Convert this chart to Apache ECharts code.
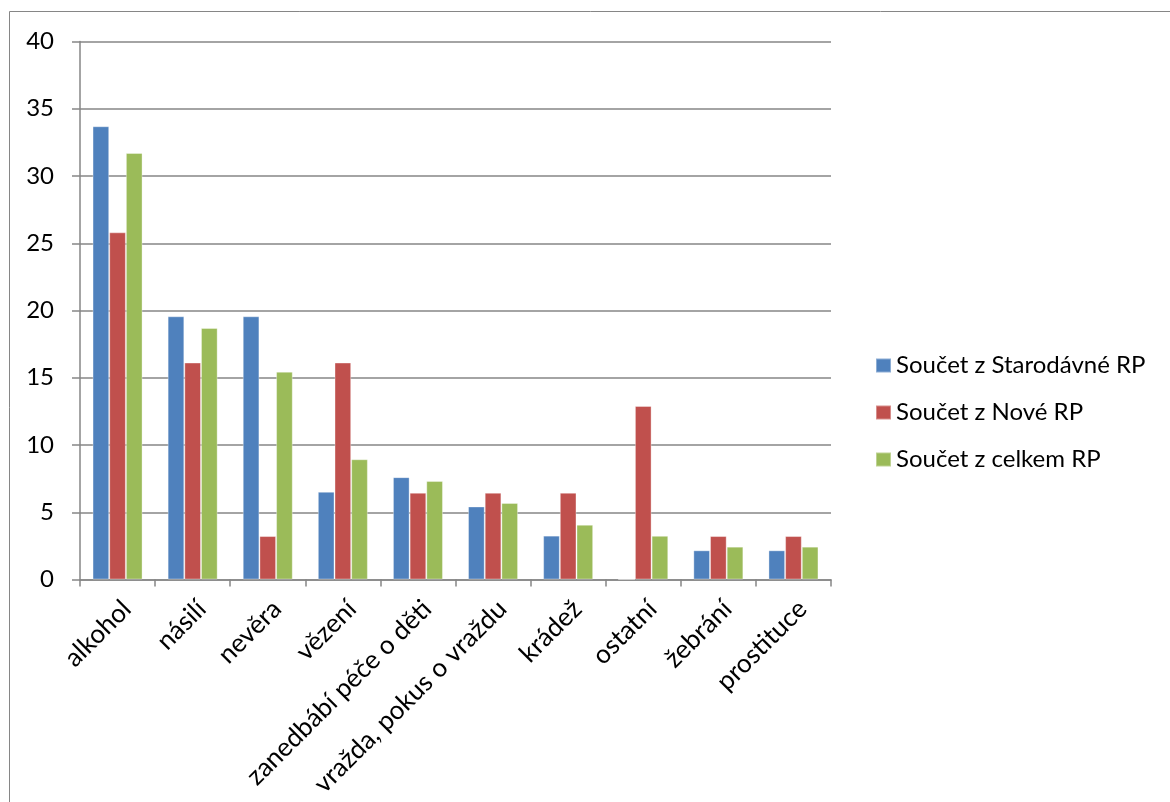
<!DOCTYPE html>
<html>
<head>
<meta charset="utf-8">
<script src="https://cdn.jsdelivr.net/npm/echarts@6/dist/echarts.min.js"></script>
<style>
  html, body { margin: 0; padding: 0; background: #fff; }
  #chart { width: 1170px; height: 802px; }
</style>
</head>
<body>
<div id="chart"></div>
<script>
// Causes (categories) and percentage shares per group
const categories = ['alkohol', 'násilí', 'nevěra', 'vězení', 'zanedbábí péče o děti',
  'vražda, pokus o vraždu', 'krádež', 'ostatní', 'žebrání', 'prostituce'];
const seriesNames = ['Součet z Starodávné RP', 'Součet z Nové RP', 'Součet z celkem RP'];
const starodavne = [33.70, 19.57, 19.57, 6.52, 7.61, 5.43, 3.26, 0, 2.17, 2.17];
const nove = [25.81, 16.13, 3.23, 16.13, 6.45, 6.45, 6.45, 12.90, 3.23, 3.23];
const celkem = [31.71, 18.70, 15.45, 8.94, 7.32, 5.69, 4.07, 3.25, 2.44, 2.44];
const yTicks = { min: 0, max: 40, interval: 5 };

const colors = ['#4F81BD', '#C0504D', '#9BBB59'];
const font = 'Lato, "Open Sans", sans-serif';
const axisGray = '#868686';

const chart = echarts.init(document.getElementById('chart'), null, { renderer: 'canvas' });

const seriesData = [starodavne, nove, celkem];

chart.setOption({
  animation: false,
  color: colors,
  textStyle: { fontFamily: font, color: '#000' },
  graphic: [{
    type: 'rect',
    shape: { x: 9.5, y: 11.5, width: 1200, height: 900 },
    style: { fill: 'none', stroke: axisGray, lineWidth: 1 },
    silent: true
  }],
  grid: { left: 80, right: 339, top: 41.5, bottom: 222.5, containLabel: false },
  legend: {
    orient: 'vertical',
    left: 870,
    top: 348,
    itemWidth: 15,
    itemHeight: 14,
    itemGap: 22,
    icon: 'rect',
    textStyle: { fontFamily: font, fontSize: 24, lineHeight: 25, color: '#000' },
    data: seriesNames
  },
  xAxis: {
    type: 'category',
    data: categories,
    axisLine: { lineStyle: { color: axisGray, width: 1.5 } },
    axisTick: { show: true, length: 7, alignWithLabel: false, lineStyle: { color: axisGray, width: 1.5 } },
    axisLabel: {
      interval: 0,
      rotate: 45,
      margin: 16,
      align: 'right',
      verticalAlign: 'top',
      fontFamily: font,
      fontSize: 26,
      color: '#000'
    },
    splitLine: { show: false }
  },
  yAxis: {
    type: 'value',
    min: yTicks.min,
    max: yTicks.max,
    interval: yTicks.interval,
    axisLine: { show: true, lineStyle: { color: axisGray, width: 1.5 } },
    axisTick: { show: true, length: 8, lineStyle: { color: axisGray, width: 1.5 } },
    axisLabel: { margin: 26, fontFamily: font, fontSize: 24, color: '#000' },
    splitLine: { show: true, lineStyle: { color: axisGray, width: 1.5 } }
  },
  series: seriesNames.map((name, i) => ({
    name,
    type: 'bar',
    data: seriesData[i],
    barGap: '0%',
    barCategoryGap: '33.4%',
    itemStyle: { color: colors[i], borderColor: 'rgba(255,255,255,0.35)', borderWidth: 1 }
  }))
});
</script>
</body>
</html>
